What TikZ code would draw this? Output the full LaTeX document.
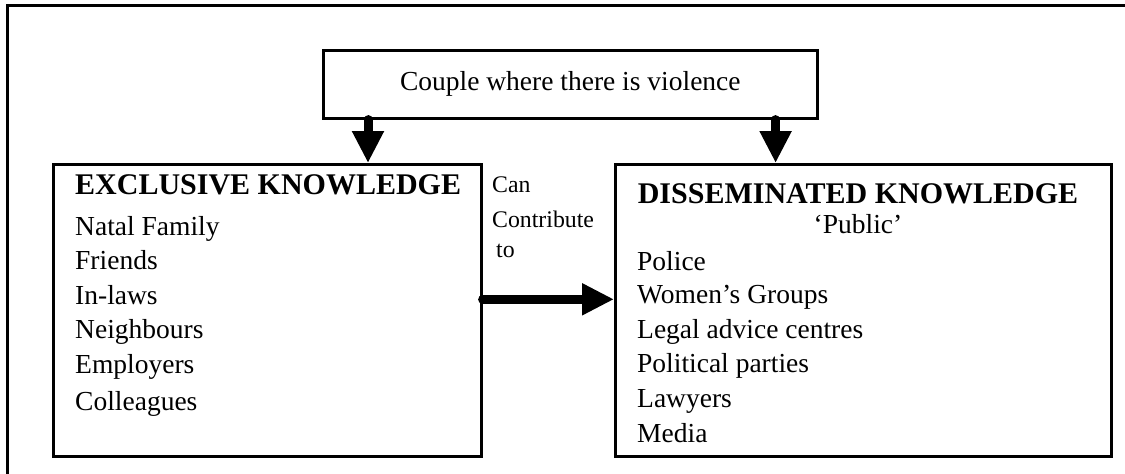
\documentclass[tikz,border=0pt]{standalone}
\usepackage{fontspec}
\setmainfont{Liberation Serif}
\usetikzlibrary{arrows.meta}
\begin{document}
\begin{tikzpicture}[x=1pt,y=-1pt,
  box/.style={draw, line width=2.6pt, inner sep=0pt, anchor=north west},
  bigarrow/.style={line width=9pt, line cap=round, -{Triangle[width=30pt,length=32pt]}},
  body/.style={font=\fontsize{27.5}{33}\selectfont, inner sep=0pt, anchor=base west},
  bodyc/.style={font=\fontsize{27.5}{33}\selectfont, inner sep=0pt, anchor=base},
  head/.style={font=\fontsize{30}{36}\selectfont\bfseries, inner sep=0pt},
  small/.style={font=\fontsize{23.8}{28}\selectfont, inner sep=0pt, anchor=base west}
]
\useasboundingbox (0,0) rectangle (1125,474);
% outer frame (top and left only)
\draw[line width=3pt] (1125,5) -- (7.5,5) -- (7.5,474);

% boxes
\node[box, minimum width=494pt, minimum height=68pt, font=\fontsize{27.5}{33}\selectfont] (couple) at (322,49) {Couple where there is violence};
\node[box, minimum width=428pt, minimum height=292pt] (excl) at (52,163) {};
\node[box, minimum width=496pt, minimum height=292pt] (diss) at (614,163) {};

% left box text
\node[head, anchor=base west] (exh) at (75,194) {EXCLUSIVE KNOWLEDGE};
\node[body] (e1) at (75,235) {Natal Family};
\node[body] (e2) at (75,269.5) {Friends};
\node[body] (e3) at (75,304) {In-laws};
\node[body] (e4) at (75,338.5) {Neighbours};
\node[body] (e5) at (75,373) {Employers};
\node[body] (e6) at (75,410) {Colleagues};

% right box text
\node[head, anchor=base] (dih) at (858,203) {DISSEMINATED KNOWLEDGE};
\node[bodyc] (pub) at (858,233) {‘Public’};
\node[body] (d1) at (637,270) {Police};
\node[body] (d2) at (637,303) {Women’s Groups};
\node[body] (d3) at (637,338) {Legal advice centres};
\node[body] (d4) at (637,372) {Political parties};
\node[body] (d5) at (637,407) {Lawyers};
\node[body] (d6) at (637,442) {Media};

% connector label
\node[small] (c1) at (492,192) {Can};
\node[small] (c2) at (492,227) {Contribute};
\node[small] (c3) at (496,257) {to};

% arrows
\draw[bigarrow] ([xshift=46pt]couple.south west) -- ([xshift=46pt]couple.south west |- excl.north);
\draw[bigarrow] ([xshift=-43pt]couple.south east) -- ([xshift=-43pt]couple.south east |- diss.north);
\draw[bigarrow] ([yshift=11pt]excl.east) -- ([yshift=11pt]excl.east -| diss.west);
\end{tikzpicture}
\end{document}
